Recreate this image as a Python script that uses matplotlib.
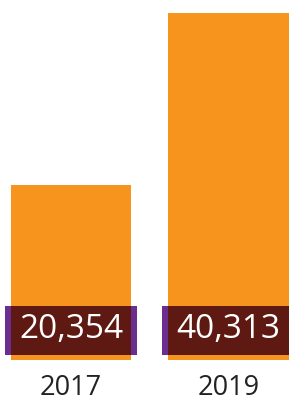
import matplotlib
matplotlib.use("Agg")
import matplotlib.pyplot as plt
from matplotlib.patches import Rectangle

years = ["2017", "2019"]
values = [20354, 40313]

ORANGE = "#f7941d"
DARK = "#5e1a12"
PURPLE = "#6b2d8f"

W, H = 289, 401
fig = plt.figure(figsize=(W / 100, H / 100), dpi=100)
bottom_px = 360
ax = fig.add_axes([0, (H - bottom_px) / H, 1, bottom_px / H])
ymax = 41823
ax.set_ylim(0, ymax)
ax.set_xlim(-0.451, 1.384)

x = list(range(len(years)))
width = 0.765
ax.bar(x, values, width=width, color=ORANGE, zorder=1)

px = ymax / bottom_px  # data units per pixel (y)
xpx = 1 / 157.5        # data units per pixel (x)
box_lo = 5 * px
box_hi = 54 * px
for xi, v in zip(x, values):
    ax.add_patch(Rectangle((xi - width / 2 - 6 * xpx, box_lo), width + 12 * xpx, box_hi - box_lo,
                           facecolor=PURPLE, edgecolor="none", zorder=2))
    ax.add_patch(Rectangle((xi - width / 2, box_lo), width, box_hi - box_lo,
                           facecolor=DARK, edgecolor="none", zorder=3))
    ax.text(xi, (box_lo + box_hi) / 2 + 0.5 * px, f"{v:,}", ha="center", va="center",
            color="white", fontsize=24, family="Open Sans", zorder=4)

ax.set_xticks(x)
ax.set_xticklabels(years, fontsize=19.5, family="Open Sans", color="#222222")
ax.tick_params(axis="x", length=0, pad=10)
ax.set_yticks([])
for s in ax.spines.values():
    s.set_visible(False)

fig.savefig("out.png", dpi=100)
